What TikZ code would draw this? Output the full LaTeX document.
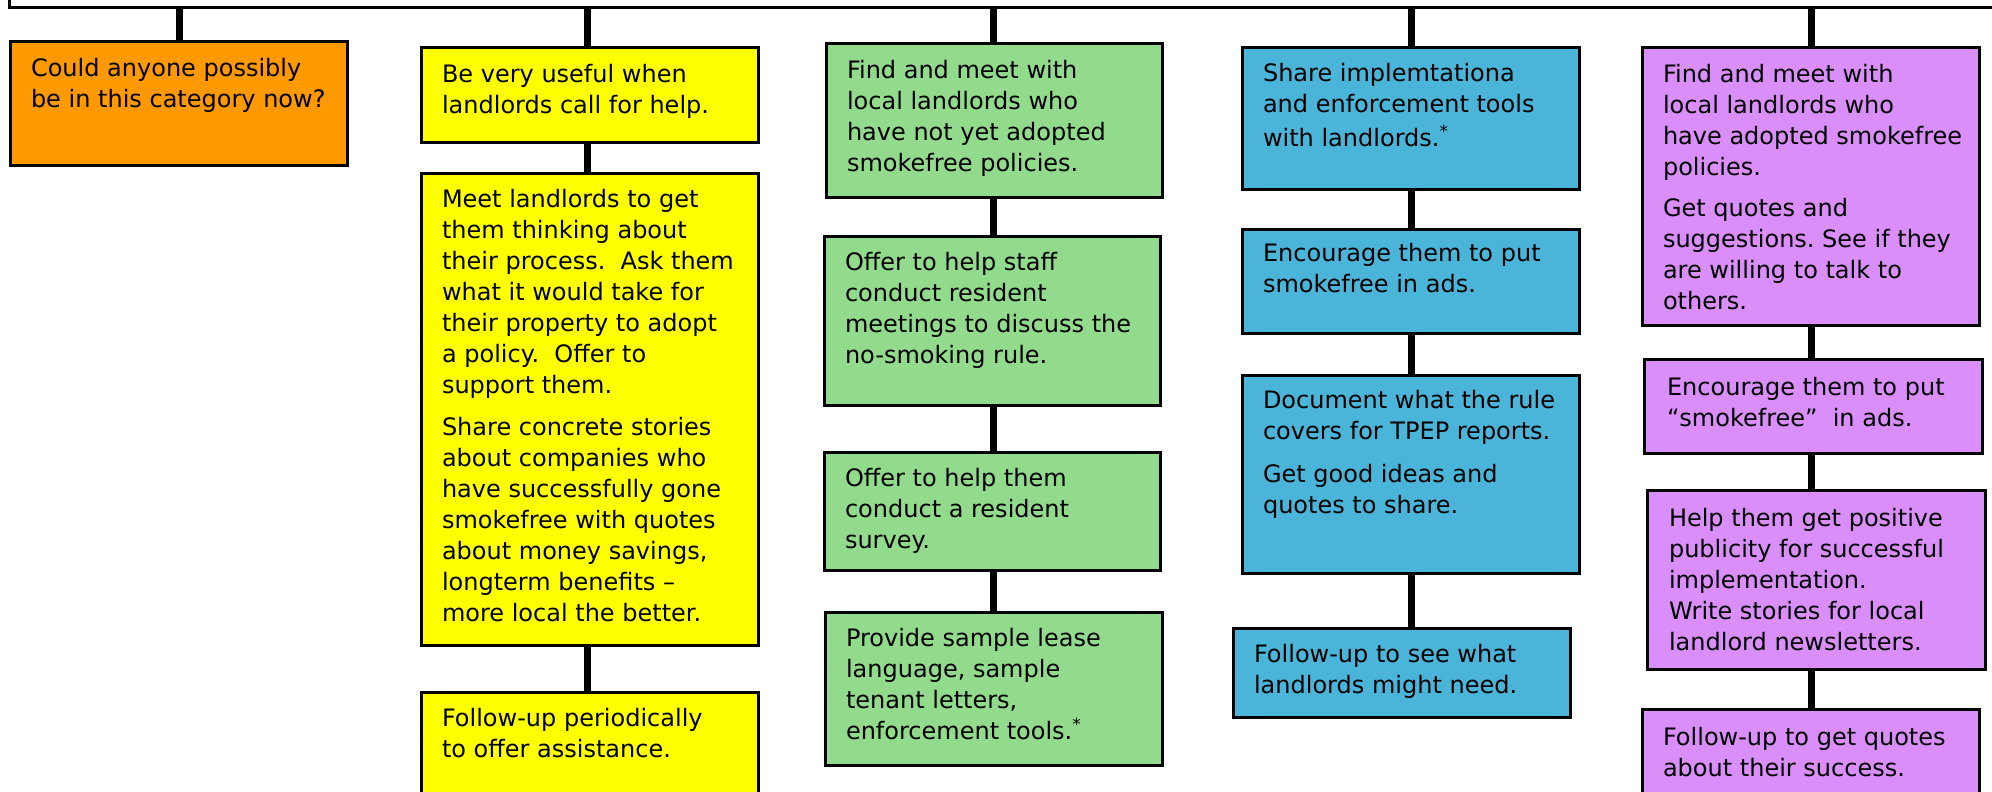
\documentclass[tikz,border=0pt]{standalone}
\usepackage{fontspec}
\setmainfont{DejaVu Sans}
\frenchspacing
\definecolor{cOrange}{HTML}{FF9900}
\definecolor{cYellow}{HTML}{FFFF00}
\definecolor{cGreen}{HTML}{93DB8C}
\definecolor{cBlue}{HTML}{4BB4D9}
\definecolor{cPurple}{HTML}{DA8EFA}
\begin{document}
\begin{tikzpicture}[x=1pt,y=-1pt,
  box/.style={draw=black, line width=3pt, rectangle, inner sep=0pt, outer sep=0pt, anchor=north west},
  txt/.style={inner sep=0pt, outer sep=0pt, align=left, anchor=north west, font=\fontsize{24}{31}\selectfont},
  conn/.style={draw=black, line width=7pt},
  frame/.style={draw=black, line width=3pt}]
\useasboundingbox (0,0) rectangle (1992,792);
\clip (0,0) rectangle (1992,792);
\draw[frame] (9,-20) -- (9,8) -- (2010,8);
% column coordinates on the top line
\coordinate (ox) at (179,8);
\coordinate (yx) at (587,8);
\coordinate (gx) at (993,8);
\coordinate (bx) at (1411,8);
\coordinate (px) at (1811,8);
% boxes
\node[box, fill=cOrange, minimum width=337pt, minimum height=123pt] (o1) at (10,42) {};
\node[box, fill=cYellow, minimum width=337pt, minimum height=94pt] (y1) at (421,48) {};
\node[box, fill=cYellow, minimum width=337pt, minimum height=472pt] (y2) at (421,173) {};
\node[box, fill=cYellow, minimum width=337pt, minimum height=128pt] (y3) at (421,692) {};
\node[box, fill=cGreen, minimum width=336pt, minimum height=153pt] (g1) at (826,44) {};
\node[box, fill=cGreen, minimum width=336pt, minimum height=169pt] (g2) at (824,236) {};
\node[box, fill=cGreen, minimum width=336pt, minimum height=118pt] (g3) at (824,452) {};
\node[box, fill=cGreen, minimum width=337pt, minimum height=153pt] (g4) at (825,612) {};
\node[box, fill=cBlue, minimum width=337pt, minimum height=141pt] (b1) at (1242,48) {};
\node[box, fill=cBlue, minimum width=337pt, minimum height=104pt] (b2) at (1242,229) {};
\node[box, fill=cBlue, minimum width=337pt, minimum height=198pt] (b3) at (1242,375) {};
\node[box, fill=cBlue, minimum width=337pt, minimum height=89pt] (b4) at (1233,628) {};
\node[box, fill=cPurple, minimum width=337pt, minimum height=277pt] (p1) at (1642,48) {};
\node[box, fill=cPurple, minimum width=338pt, minimum height=94pt] (p2) at (1644,359) {};
\node[box, fill=cPurple, minimum width=338pt, minimum height=179pt] (p3) at (1647,490) {};
\node[box, fill=cPurple, minimum width=337pt, minimum height=111pt] (p4) at (1642,709) {};
% texts
\node[txt] (o1t) at ([shift={(21,16)}]o1.north west) {Could anyone possibly\\be in this category now?};
\node[txt] (y1t) at ([shift={(21,16)}]y1.north west) {Be very useful when\\landlords call for help.};
\node[txt] (y2t) at ([shift={(21,16)}]y2.north west) {Meet landlords to get\\them thinking about\\their process.~ Ask them\\what it would take for\\their property to adopt\\a policy.~ Offer to\\support them.\\[11pt]Share concrete stories\\about companies who\\have successfully gone\\smokefree with quotes\\about money savings,\\longterm benefits –\\more local the better.};
\node[txt] (y3t) at ([shift={(21,16)}]y3.north west) {Follow-up periodically\\to offer assistance.};
\node[txt] (g1t) at ([shift={(21,16)}]g1.north west) {Find and meet with\\local landlords who\\have not yet adopted\\smokefree policies.};
\node[txt] (g2t) at ([shift={(21,16)}]g2.north west) {Offer to help staff\\conduct resident\\meetings to discuss the\\no-smoking rule.};
\node[txt] (g3t) at ([shift={(21,16)}]g3.north west) {Offer to help them\\conduct a resident\\survey.};
\node[txt] (g4t) at ([shift={(21,16)}]g4.north west) {Provide sample lease\\language, sample\\tenant letters,\\enforcement tools.\textsuperscript{*}};
\node[txt] (b1t) at ([shift={(21,15)}]b1.north west) {Share implemtationa\\and enforcement tools\\[3pt]with landlords.\textsuperscript{*}};
\node[txt] (b2t) at ([shift={(21,14)}]b2.north west) {Encourage them to put\\smokefree in ads.};
\node[txt] (b3t) at ([shift={(21,15)}]b3.north west) {Document what the rule\\covers for TPEP reports.\\[12pt]Get good ideas and\\quotes to share.};
\node[txt] (b4t) at ([shift={(21,16)}]b4.north west) {Follow-up to see what\\landlords might need.};
\node[txt] (p1t) at ([shift={(21,16)}]p1.north west) {Find and meet with\\local landlords who\\have adopted smokefree\\policies.\\[10pt]Get quotes and\\suggestions. See if they\\are willing to talk to\\others.};
\node[txt] (p2t) at ([shift={(23,18)}]p2.north west) {Encourage them to put\\“smokefree”~ in ads.};
\node[txt] (p3t) at ([shift={(22,18)}]p3.north west) {Help them get positive\\publicity for successful\\implementation.\\Write stories for local\\landlord newsletters.};
\node[txt] (p4t) at ([shift={(21,18)}]p4.north west) {Follow-up to get quotes\\about their success.};
% connectors
\draw[conn] (ox) -- (o1.north -| ox);
\draw[conn] (yx) -- (y1.north -| yx);
\draw[conn] (y1.south -| yx) -- (y2.north -| yx);
\draw[conn] (y2.south -| yx) -- (y3.north -| yx);
\draw[conn] (gx) -- (g1.north -| gx);
\draw[conn] (g1.south -| gx) -- (g2.north -| gx);
\draw[conn] (g2.south -| gx) -- (g3.north -| gx);
\draw[conn] (g3.south -| gx) -- (g4.north -| gx);
\draw[conn] (bx) -- (b1.north -| bx);
\draw[conn] (b1.south -| bx) -- (b2.north -| bx);
\draw[conn] (b2.south -| bx) -- (b3.north -| bx);
\draw[conn] (b3.south -| bx) -- (b4.north -| bx);
\draw[conn] (px) -- (p1.north -| px);
\draw[conn] (p1.south -| px) -- (p2.north -| px);
\draw[conn] (p2.south -| px) -- (p3.north -| px);
\draw[conn] (p3.south -| px) -- (p4.north -| px);
\end{tikzpicture}
\end{document}
